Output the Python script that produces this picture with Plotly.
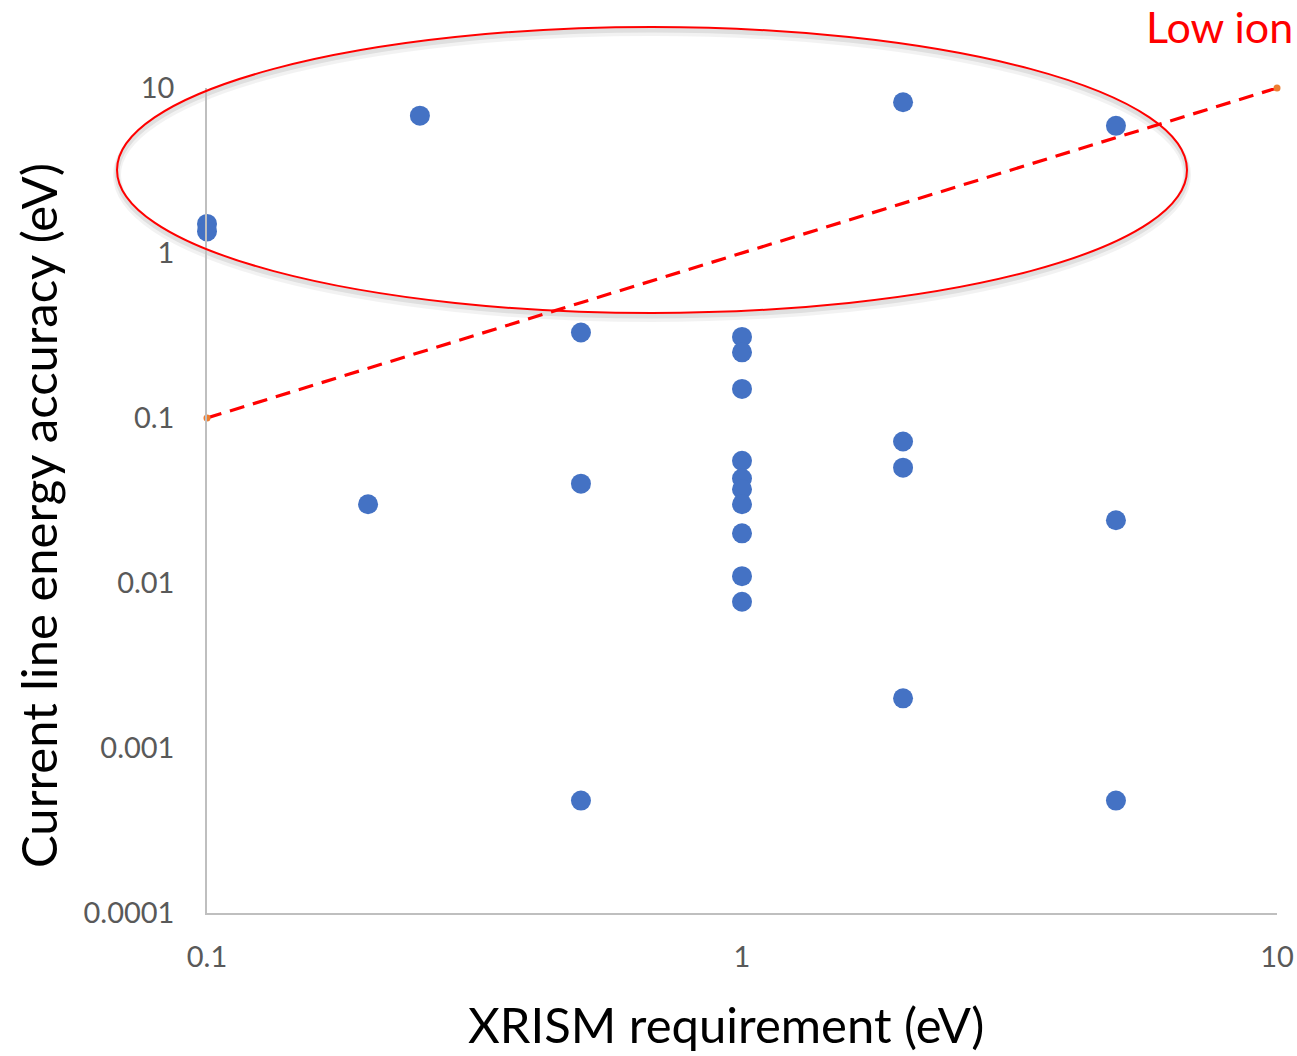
import plotly.graph_objects as go

# XRISM requirement (eV) and current line energy accuracy (eV) for each line
xrism_req = [0.1, 0.1, 0.25, 2, 5,
             0.5, 0.5, 0.5, 0.2,
             1, 1, 1, 1, 1, 1, 1, 1, 1, 1,
             2, 2, 2, 5, 5]
accuracy = [1.5, 1.35, 6.8, 8.2, 5.9,
            0.33, 0.04, 0.00048, 0.03,
            0.31, 0.25, 0.15, 0.055, 0.043, 0.037, 0.03, 0.02, 0.011, 0.0077,
            0.072, 0.05, 0.002, 0.024, 0.00048]

# one-to-one reference line
ref_x = [0.1, 10]
ref_y = [0.1, 10]

x_ticks = [0.1, 1, 10]
x_tick_text = ["0.1", "1", "10"]
y_ticks = [0.0001, 0.001, 0.01, 0.1, 1, 10]
y_tick_text = ["0.0001", "0.001", "0.01", "0.1", "1", "10"]

W, H = 1297, 1056
L, R, T, B = 207, 20, 88, 143
PW, PH = W - L - R, H - T - B


def px_to_paper(x, y):
    return (x - L) / PW, (H - B - y) / PH


fig = go.Figure()

fig.add_trace(go.Scatter(
    x=ref_x, y=ref_y, mode="lines+markers",
    line=dict(color="#FF0000", width=3.2, dash="15px,9px"),
    marker=dict(color="#ED7D31", size=7),
    cliponaxis=False, hoverinfo="skip", showlegend=False,
))

fig.add_trace(go.Scatter(
    x=xrism_req, y=accuracy, mode="markers",
    marker=dict(color="#4472C4", size=20, line=dict(width=0)),
    cliponaxis=False, showlegend=False,
))

font_family = "Lato, 'Open Sans', sans-serif"
tick_font = dict(family=font_family, size=29, color="#595959")
title_font = dict(family=font_family, size=49, color="#000000")

fig.update_xaxes(
    type="log", range=[-1, 1], automargin=False,
    tickvals=x_ticks, ticktext=x_tick_text, tickfont=tick_font,
    showgrid=False, zeroline=False,
    showline=True, linecolor="#BFBFBF", linewidth=1.5,
    ticks="", ticklabelstandoff=17,
)
fig.update_yaxes(
    type="log", range=[-4, 1], automargin=False,
    tickvals=y_ticks, tickfont=tick_font, ticktext=y_tick_text,
    showgrid=False, zeroline=False,
    showline=True, linecolor="#BFBFBF", linewidth=1.5,
    ticks="", ticklabelstandoff=25,
)

# axis titles
tx, ty = px_to_paper(726, 1024)
fig.add_annotation(text="XRISM requirement (eV)", xref="paper", yref="paper",
                   x=tx, y=ty, xanchor="center", yanchor="middle",
                   showarrow=False, font=title_font)
tx, ty = px_to_paper(38, 516)
fig.add_annotation(text="Current line energy accuracy (eV)", xref="paper", yref="paper",
                   x=tx, y=ty, xanchor="center", yanchor="middle", textangle=-90,
                   showarrow=False, font=title_font)

# highlight ellipse around the low-ionisation lines, with a soft drop shadow
ex0, ey0 = px_to_paper(117, 313)
ex1, ey1 = px_to_paper(1187, 27)
for off, col, w in [(5, "rgba(0,0,0,0.05)", 8), (3, "rgba(0,0,0,0.08)", 5)]:
    dy = off / PH
    fig.add_shape(type="circle", xref="paper", yref="paper",
                  x0=ex0, x1=ex1, y0=ey0 - dy, y1=ey1 - dy,
                  line=dict(color=col, width=w), layer="below")
fig.add_shape(type="circle", xref="paper", yref="paper",
              x0=ex0, x1=ex1, y0=ey0, y1=ey1,
              line=dict(color="#FF0000", width=2))

lx, ly = px_to_paper(1144, 27)
fig.add_annotation(
    text="Low ion", xref="paper", yref="paper", x=lx, y=ly,
    xanchor="left", yanchor="middle", showarrow=False,
    font=dict(family=font_family, size=43, color="#FF0000"),
)

fig.update_layout(
    width=W, height=H,
    margin=dict(l=L, r=R, t=T, b=B, pad=0),
    plot_bgcolor="white", paper_bgcolor="white",
    showlegend=False,
)

fig.write_html("out.html")
